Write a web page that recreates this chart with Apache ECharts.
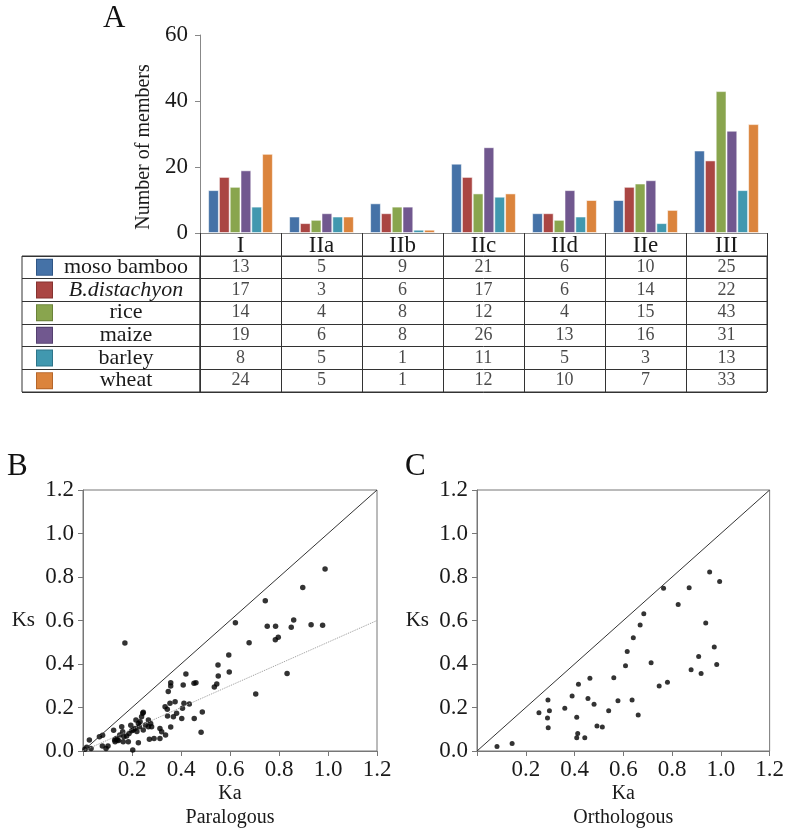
<!DOCTYPE html>
<html><head><meta charset="utf-8">
<script src="https://cdn.jsdelivr.net/npm/echarts@6/dist/echarts.min.js"></script>
<style>html,body{margin:0;padding:0;background:#fff}#c{width:787px;height:831px}</style>
</head><body><div id="c"></div>
<script>
const categories = ['I','IIa','IIb','IIc','IId','IIe','III'];
const species = ['moso bamboo','B.distachyon','rice','maize','barley','wheat'];
const mosoBamboo  = [13,5,9,21,6,10,25];
const bDistachyon = [17,3,6,17,6,14,22];
const rice        = [14,4,8,12,4,15,43];
const maize       = [19,6,8,26,13,16,31];
const barley      = [8,5,1,11,5,3,13];
const wheat       = [24,5,1,12,10,7,33];
const speciesColors = ['#4572A7','#AA4643','#89A54E','#71588F','#4198AF','#DB843D'];
const speciesBorders = ['#2f5585','#853330','#6a8239','#54406f','#2e7489','#b5662a'];

const paralogous = [
 [0.988,0.837],[0.897,0.752],[0.744,0.691],[0.622,0.590],[0.860,0.602],[0.752,0.573],[0.786,0.573],
 [0.850,0.569],[0.931,0.581],[0.978,0.578],[0.797,0.523],[0.785,0.512],[0.678,0.498],[0.171,0.497],
 [0.595,0.441],[0.551,0.395],[0.597,0.363],[0.552,0.345],[0.833,0.356],[0.546,0.308],[0.536,0.294],
 [0.705,0.262],[0.487,0.179],[0.482,0.086],
 [0.420,0.354],[0.358,0.314],[0.358,0.299],[0.409,0.303],[0.453,0.311],[0.461,0.314],[0.348,0.273],
 [0.376,0.227],[0.355,0.219],[0.335,0.204],[0.344,0.192],[0.345,0.161],[0.369,0.158],[0.382,0.173],
 [0.406,0.196],[0.412,0.219],[0.434,0.216],[0.403,0.150],[0.454,0.150],[0.358,0.110],
 [0.337,0.074],[0.314,0.104],[0.321,0.089],[0.314,0.058],[0.290,0.058],[0.271,0.054],
 [0.267,0.143],[0.276,0.127],[0.267,0.112],[0.280,0.112],
 [0.246,0.178],[0.244,0.173],[0.239,0.158],[0.233,0.135],[0.226,0.127],[0.216,0.143],[0.212,0.104],
 [0.205,0.097],[0.199,0.093],[0.195,0.118],[0.230,0.112],[0.246,0.097],[0.226,0.038],[0.203,0.005],
 [0.158,0.112],[0.162,0.089],[0.167,0.066],[0.178,0.069],[0.164,0.043],[0.185,0.043],
 [0.125,0.095],[0.129,0.051],[0.135,0.057],[0.140,0.051],[0.131,0.043],[0.145,0.048],
 [0.067,0.066],[0.080,0.072],[0.079,0.023],[0.094,0.012],[0.102,0.023],
 [0.026,0.051],[0.015,0.017],[0.033,0.011],[0.008,0.008],
 [0.220,0.090],[0.255,0.120],[0.188,0.080],[0.150,0.074]
];
const orthologous = [
 [0.082,0.021],[0.144,0.034],[0.254,0.176],[0.291,0.234],[0.297,0.185],[0.289,0.152],[0.292,0.107],
 [0.360,0.196],[0.390,0.253],[0.416,0.307],[0.409,0.155],[0.413,0.081],[0.409,0.061],[0.442,0.061],
 [0.463,0.334],[0.455,0.241],[0.480,0.215],[0.492,0.115],[0.514,0.110],[0.540,0.185],[0.561,0.337],
 [0.578,0.231],[0.609,0.392],[0.616,0.457],[0.641,0.521],[0.669,0.579],[0.636,0.234],[0.661,0.166],
 [0.684,0.631],[0.714,0.406],[0.747,0.299],[0.781,0.316],[0.765,0.748],[0.825,0.674],[0.870,0.751],
 [0.878,0.374],[0.909,0.435],[0.919,0.356],[0.938,0.588],[0.954,0.823],[0.973,0.478],[0.983,0.398],
 [0.995,0.779]
];
const diagonalLine = [[0,0],[1.2,1.2]];
const paraFitLine = [[0,0],[1.2,0.6]];

const seriesValues = [mosoBamboo,bDistachyon,rice,maize,barley,wheat];
const FONT = 'Liberation Serif';
const TXT = '#1a1a1a';

const chart = echarts.init(document.getElementById('c'), null, {renderer:'canvas'});

const richT1 = {};
speciesColors.forEach((c,i)=>{ richT1['s'+i] = {width:15,height:15,backgroundColor:c,borderColor:speciesBorders[i],borderWidth:1}; });
richT1.n = {width:140,align:'center',padding:[0,0,0,4],fontSize:22,fontFamily:FONT,color:TXT};
richT1.ni = {width:140,align:'center',padding:[0,0,0,4],fontSize:22,fontFamily:FONT,color:TXT,fontStyle:'italic'};

const cellData = [];
seriesValues.forEach((arr,si)=>arr.forEach((v,ci)=>cellData.push([ci,si,v])));

function scatterAxes(gi){
  return {
    x:{type:'value',gridIndex:gi,min:0,max:1.2,interval:0.2,
       name:'',nameLocation:'middle',
       axisLine:{show:true,lineStyle:{color:'#777'}},
       axisTick:{show:true,length:5,lineStyle:{color:'#777'}},
       splitLine:{show:false},
       axisLabel:{fontSize:23,fontFamily:FONT,color:TXT,margin:7,formatter:v=>v===0?'':v.toFixed(1)}},
    y:{type:'value',gridIndex:gi,min:0,max:1.2,interval:0.2,
       name:'Ks',nameLocation:'middle',nameRotate:0,nameGap:48,
       nameTextStyle:{fontSize:21,fontFamily:FONT,color:TXT},
       axisLine:{show:true,lineStyle:{color:'#777'}},
       axisTick:{show:true,length:5,lineStyle:{color:'#777'}},
       splitLine:{show:false},
       axisLabel:{fontSize:23,fontFamily:FONT,color:TXT,margin:9,formatter:v=>v.toFixed(1)}}
  };
}
const axB = scatterAxes(3), axC = scatterAxes(4);
axB.x.name = 'Ka\nParalogous'; axC.x.name = 'Ka\nOrthologous';
[axB.x,axC.x].forEach(a=>{a.nameGap=31;a.nameTextStyle={fontSize:20,fontFamily:FONT,color:TXT,lineHeight:24};});

const option = {
  animation:false,
  backgroundColor:'#fff',
  title:[
    {text:'A',left:98,top:-2,textStyle:{fontSize:31,fontFamily:FONT,fontWeight:'normal',color:'#111'}},
    {text:'B',left:2,top:446,textStyle:{fontSize:31,fontFamily:FONT,fontWeight:'normal',color:'#111'}},
    {text:'C',left:400,top:446,textStyle:{fontSize:31,fontFamily:FONT,fontWeight:'normal',color:'#111'}}
  ],
  grid:[
    {left:200,top:35,width:567,height:198},
    {left:22,top:256,width:178,height:136,show:true,borderColor:'#333',borderWidth:1},
    {left:200,top:256,width:567,height:136,show:true,borderColor:'#333',borderWidth:1},
    {left:83,top:490,width:294,height:261,show:true,borderColor:'#777',borderWidth:1},
    {left:477,top:490,width:295,height:261,show:true,borderColor:'#777',borderWidth:1}
  ],
  xAxis:[
    {type:'category',gridIndex:0,data:categories,
     axisLine:{lineStyle:{color:'#888'}},
     axisTick:{show:true,length:23,interval:0,lineStyle:{color:'#333'}},
     axisLabel:{fontSize:23,fontFamily:FONT,color:TXT,margin:1}},
    {type:'value',gridIndex:1,min:0,max:1,show:false},
    {type:'category',gridIndex:2,data:categories,
     axisLine:{show:false},axisTick:{show:false},axisLabel:{show:false},
     splitLine:{show:true,interval:0,lineStyle:{color:'#333'}}},
    axB.x, axC.x
  ],
  yAxis:[
    {type:'value',gridIndex:0,min:0,max:60,interval:20,
     name:'Number of members',nameLocation:'middle',nameGap:46,
     nameTextStyle:{fontSize:20,fontFamily:FONT,color:TXT,padding:[0,26,0,0]},
     axisLine:{show:true,lineStyle:{color:'#888'}},
     axisTick:{show:true,length:5,lineStyle:{color:'#888'}},
     splitLine:{show:false},
     axisLabel:{fontSize:23,fontFamily:FONT,color:TXT,margin:12}},
    {type:'category',gridIndex:1,data:species,inverse:true,
     axisLine:{show:false},axisTick:{show:false},
     splitLine:{show:true,interval:0,lineStyle:{color:'#333'}},
     axisLabel:{inside:true,margin:15,interval:0,
       formatter:(v,i)=>`{s${i}|}{${i===1?'ni':'n'}|${v}}`,rich:richT1}},
    {type:'category',gridIndex:2,data:species,inverse:true,
     axisLine:{show:false},axisTick:{show:false},axisLabel:{show:false},
     splitLine:{show:true,interval:0,lineStyle:{color:'#333'}}},
    axB.y, axC.y
  ],
  series:[
    ...seriesValues.map((arr,i)=>({
      type:'bar',name:species[i],xAxisIndex:0,yAxisIndex:0,data:arr,
      barGap:'0%',barCategoryGap:'20%',
      itemStyle:{color:speciesColors[i],borderColor:'rgba(255,255,255,0.55)',borderWidth:1}
    })),
    {type:'scatter',xAxisIndex:2,yAxisIndex:2,data:cellData,symbolSize:1,
     itemStyle:{color:'rgba(0,0,0,0)'},
     label:{show:true,position:'inside',formatter:p=>String(p.value[2]),fontSize:18,fontFamily:FONT,color:TXT}},
    {type:'line',xAxisIndex:3,yAxisIndex:3,data:diagonalLine,symbol:'none',lineStyle:{color:'#333',width:1}},
    {type:'line',xAxisIndex:3,yAxisIndex:3,data:paraFitLine,symbol:'none',lineStyle:{color:'#999',width:1,type:'dotted'}},
    {type:'scatter',xAxisIndex:3,yAxisIndex:3,data:paralogous,symbolSize:5.5,itemStyle:{color:'#000'}},
    {type:'line',xAxisIndex:4,yAxisIndex:4,data:diagonalLine,symbol:'none',lineStyle:{color:'#333',width:1}},
    {type:'scatter',xAxisIndex:4,yAxisIndex:4,data:orthologous,symbolSize:5,itemStyle:{color:'#000'}}
  ]
};
chart.setOption(option);
</script></body></html>
